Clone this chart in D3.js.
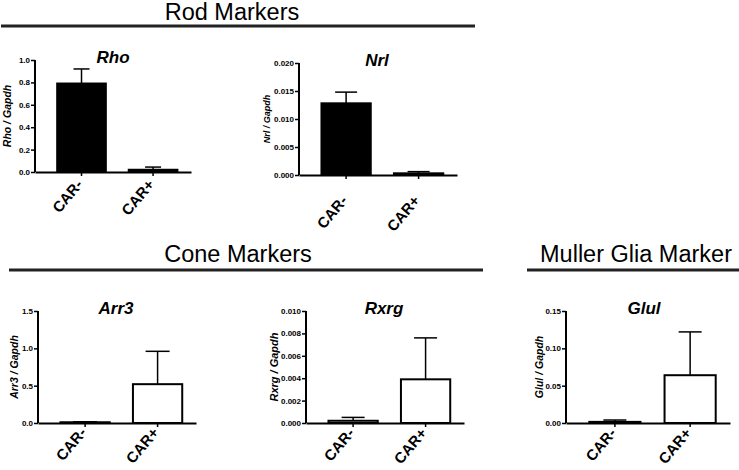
<!DOCTYPE html>
<html><head><meta charset="utf-8">
<script src="https://cdn.jsdelivr.net/npm/d3@7"></script>
<style>
html,body{margin:0;padding:0;background:#fff;}
svg{display:block;font-family:"Liberation Sans",Arial,Helvetica,sans-serif;}
</style></head>
<body>
<script>
// ---------- data ----------
const categories = ["CAR-", "CAR+"];
const genes = ["Rho", "Nrl", "Arr3", "Rxrg", "Glul"];
const rhoMean = [0.79, 0.02],     rhoSem = [0.13, 0.024];
const nrlMean = [0.0128, 0.0003], nrlSem = [0.0020, 0.0003];
const arr3Mean = [0.01, 0.52],    arr3Sem = [0.006, 0.44];
const rxrgMean = [0.0002, 0.0039], rxrgSem = [0.0003, 0.0037];
const glulMean = [0.0015, 0.064], glulSem = [0.0025, 0.058];
const rhoTicks = [0, 0.2, 0.4, 0.6, 0.8, 1.0];
const nrlTicks = [0, 0.005, 0.010, 0.015, 0.020];
const arr3Ticks = [0, 0.5, 1.0, 1.5];
const rxrgTicks = [0, 0.002, 0.004, 0.006, 0.008, 0.010];
const glulTicks = [0, 0.05, 0.10, 0.15];
const rhoFmt = ".1f", nrlFmt = ".3f", arr3Fmt = ".1f", rxrgFmt = ".3f", glulFmt = ".2f";
const sectionTitles = ["Rod Markers", "Cone Markers", "Muller Glia Marker"];

// ---------- layout ----------
const W = 739, H = 470;
const svg = d3.select("body").append("svg").attr("width", W).attr("height", H);

const panelData = [
  {gene: genes[0], mean: rhoMean, sem: rhoSem, ticks: rhoTicks, fmt: rhoFmt, fill: "#000"},
  {gene: genes[1], mean: nrlMean, sem: nrlSem, ticks: nrlTicks, fmt: nrlFmt, fill: "#000"},
  {gene: genes[2], mean: arr3Mean, sem: arr3Sem, ticks: arr3Ticks, fmt: arr3Fmt, fill: "#fff"},
  {gene: genes[3], mean: rxrgMean, sem: rxrgSem, ticks: rxrgTicks, fmt: rxrgFmt, fill: "#fff"},
  {gene: genes[4], mean: glulMean, sem: glulSem, ticks: glulTicks, fmt: glulFmt, fill: "#fff"}
];
// position layout per panel
const layout = [
  {x0: 35,  y0: 172, lab: 28, lfs: 10.5, L: 156, cap: 16, xl: 13},
  {x0: 299, y0: 175, lab: 32, lfs: 9,    L: 158, cap: 22, xl: 26},
  {x0: 38,  y0: 423, lab: 24, lfs: 10.5, L: 158, cap: 24, xl: 10},
  {x0: 306, y0: 423, lab: 32, lfs: 11,   L: 158, cap: 23, xl: 10.5},
  {x0: 566, y0: 423, lab: 27, lfs: 10.5, L: 164, cap: 23, xl: 10.5}
];
const plotH = 112;

panelData.forEach((p, i) => {
  const l = layout[i];
  const g = svg.append("g");
  const x = d3.scaleBand().domain(categories).range([l.x0, l.x0 + l.L])
    .paddingInner(0.32).paddingOuter(0.25).align(0.62);
  const ymax = p.ticks[p.ticks.length - 1];
  const y = d3.scaleLinear().domain([0, ymax]).range([l.y0, l.y0 - plotH]);

  // bars
  const bw = x.bandwidth();
  g.selectAll("rect.bar").data(categories).join("rect")
    .attr("x", d => x(d)).attr("width", bw)
    .attr("y", (d, k) => y(p.mean[k]))
    .attr("height", (d, k) => l.y0 - y(p.mean[k]))
    .attr("fill", p.fill).attr("stroke", "#000").attr("stroke-width", 2);

  // error bars (upper only)
  categories.forEach((c, k) => {
    const cx = x(c) + bw / 2;
    const top = y(p.mean[k] + p.sem[k]);
    g.append("line").attr("x1", cx).attr("x2", cx)
      .attr("y1", y(p.mean[k])).attr("y2", top)
      .attr("stroke", "#000").attr("stroke-width", 1.5);
    g.append("line").attr("x1", cx - l.cap / 2).attr("x2", cx + l.cap / 2)
      .attr("y1", top).attr("y2", top)
      .attr("stroke", "#000").attr("stroke-width", 1.5);
  });

  // y axis
  const ya = g.append("g").attr("transform", `translate(${l.x0},0)`)
    .call(d3.axisLeft(y).tickValues(p.ticks).tickFormat(d3.format(p.fmt)).tickSize(4).tickPadding(1));
  ya.select(".domain").attr("stroke-width", 2).attr("d", `M0,${l.y0}V${l.y0 - plotH}`);
  ya.selectAll(".tick line").attr("stroke-width", 1.5);
  ya.selectAll(".tick text").attr("font-size", 8).attr("font-weight", "bold")
    .attr("font-family", "Liberation Sans, Arial, sans-serif").attr("fill", "#000");

  // x axis
  const xa = g.append("g").attr("transform", `translate(0,${l.y0})`)
    .call(d3.axisBottom(x).tickSize(4).tickSizeOuter(0));
  xa.select(".domain").attr("stroke-width", 2);
  xa.selectAll(".tick line").attr("stroke-width", 1.5);
  xa.selectAll(".tick text")
    .attr("font-size", 15).attr("font-weight", "bold")
    .attr("font-family", "Liberation Sans, Arial, sans-serif").attr("fill", "#000")
    .attr("text-anchor", "end").attr("y", 0).attr("dy", 0)
    .attr("transform", `translate(2,${l.xl}) rotate(-50)`);

  // title
  g.append("text").attr("x", l.x0 + 78).attr("y", l.y0 - plotH + 3)
    .attr("text-anchor", "middle").attr("font-size", 17).attr("font-weight", "bold")
    .attr("font-style", "italic").text(p.gene);

  // y label
  g.append("text")
    .attr("transform", `translate(${l.x0 - l.lab},${l.y0 - plotH / 2}) rotate(-90)`)
    .attr("text-anchor", "middle").attr("dy", "0.35em")
    .attr("font-size", l.lfs).attr("font-weight", "bold").attr("font-style", "italic")
    .text(p.gene + " / Gapdh");
});

// section headers
const headers = [
  {t: sectionTitles[0], cx: 232, y: 19.5, x1: 1, x2: 475, ly: 26},
  {t: sectionTitles[1], cx: 238, y: 262, x1: 9, x2: 483, ly: 270},
  {t: sectionTitles[2], cx: 636, y: 262, x1: 527, x2: 739, ly: 270}
];
headers.forEach(h => {
  svg.append("text").attr("x", h.cx).attr("y", h.y).attr("text-anchor", "middle")
    .attr("font-size", 23.5).attr("fill", "#000").text(h.t);
  svg.append("line").attr("x1", h.x1).attr("x2", h.x2).attr("y1", h.ly).attr("y2", h.ly)
    .attr("stroke", "#222").attr("stroke-width", 3);
});
</script>
</body></html>
